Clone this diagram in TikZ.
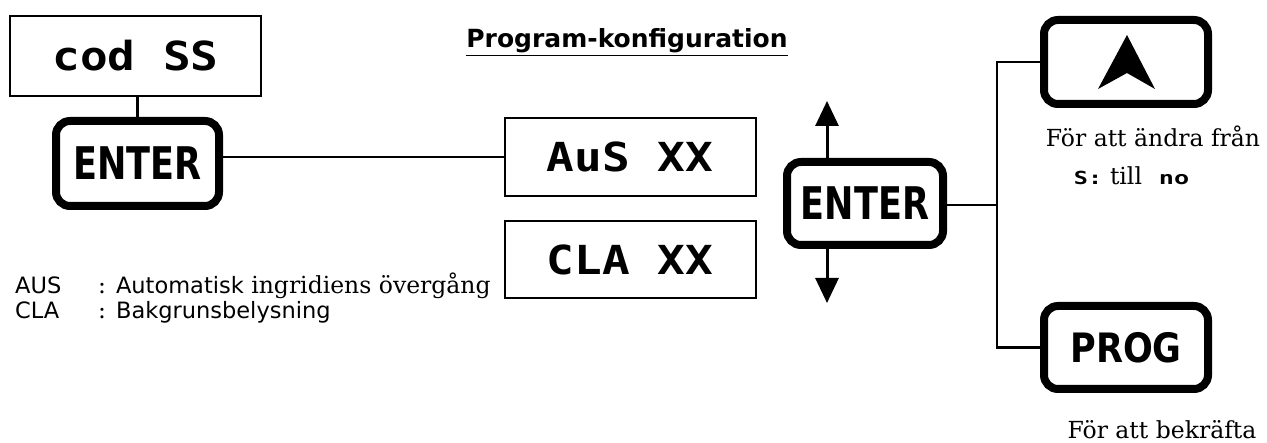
\documentclass[tikz,border=0pt]{standalone}
\usepackage{fontspec}
\usepackage{graphicx}
\setmainfont{DejaVu Serif}
\newfontfamily\comicf{DejaVu Sans}
\newfontfamily\btnf{DejaVu Sans}
\newfontfamily\segf{DejaVu Sans Mono}
\usetikzlibrary{arrows.meta}
\begin{document}
\begin{tikzpicture}[x=1pt,y=-1pt,
  lcd/.style={draw, line width=2pt, inner sep=0pt, minimum width=251pt, minimum height=78pt,
    font=\segf\bfseries\fontsize{40}{40}\selectfont},
  key/.style={draw, line width=8pt, rounded corners=14pt, inner sep=0pt,
    minimum width=164pt, minimum height=83pt, font=\btnf\bfseries\fontsize{45}{45}\selectfont},
  wire/.style={line width=2.5pt},
  arr/.style={line width=3pt, -{Triangle[width=23pt,length=25pt]}},
  serif/.style={font=\fontsize{23.5}{23.5}\selectfont, inner sep=0pt},
  legend/.style={font=\fontsize{23.5}{23.5}\selectfont, inner sep=0pt, anchor=base west},
  comicleg/.style={font=\comicf\fontsize{22.5}{22.5}\selectfont, inner sep=0pt, anchor=base west},
  small7/.style={font=\segf\bfseries\fontsize{18}{18}\selectfont, inner sep=0pt, anchor=base},
  title/.style={font=\comicf\bfseries\fontsize{25}{25}\selectfont, inner sep=0pt}
]
\useasboundingbox (0,0) rectangle (1267,443);

% displays
\node[lcd, minimum height=80pt] (dcod) at (135.5,56) {\scalebox{1.15}[1]{cod SS}};
\node[lcd] (daus) at (630,157) {\scalebox{1.15}[1]{AuS XX}};
\node[lcd, minimum height=77pt] (dcla) at (630,259.5) {\scalebox{1.15}[1]{CLA XX}};

% keys
\node[key, minimum width=163pt, minimum height=85pt] (enter1) at (137.5,163.5) {\scalebox{0.78}[1]{ENTER}};
\node[key, minimum width=156pt] (enter2) at (865,203.5) {\scalebox{0.78}[1]{ENTER}};
\node[key, minimum height=84pt] (up) at (1126,62) {};
\node[key] (prog) at (1126,347.5) {\scalebox{0.78}[0.9]{PROG}};
\fill[shift={(up.center)}] (1,-27) -- (29,27) -- (1,11) -- (-28,27) -- cycle;

% title
\node[title, anchor=base] (ttl) at (627,48) {\underline{Program-konfiguration}};

% connectors
\draw[wire] (enter1.north) -- (enter1.north |- dcod.south);
\draw[wire] (enter1.east |- daus.west) -- (daus.west);

\coordinate (uptip) at (827,101);
\coordinate (dntip) at (827,303);
\draw[arr] (uptip |- enter2.north) -- (uptip);
\draw[arr] (dntip |- enter2.south) -- (dntip);

\coordinate (j) at (997,205);
\draw[wire] (enter2.east |- j) -- (j);
\draw[wire] (up.west) -- (up.west -| j) -- (prog.west -| j) -- (prog.west);

% right texts
\node[serif, anchor=base] (t1) at (1153,147) {För att ändra från};
\node[small7] (t2a) at (1088,185) {\scalebox{1.3}[1]{S:}};
\node[serif, anchor=base] (t2b) at (1126,185) {till};
\node[small7] (t2c) at (1174,185) {\scalebox{1.4}[1]{no}};
\node[serif, anchor=base] (t3) at (1162,439) {För att bekräfta};

% legend
\node[comicleg] (l1a) at (15,294) {AUS};
\node[legend] (l1b) at (98,294) {: {\comicf\fontsize{22.5}{22.5}\selectfont Automatisk} ingridiens övergång};
\node[comicleg] (l2a) at (15,319) {CLA};
\node[legend] (l2b) at (98,319) {: {\comicf\fontsize{22.5}{22.5}\selectfont Bakgrunsbelysning}};
\end{tikzpicture}
\end{document}
